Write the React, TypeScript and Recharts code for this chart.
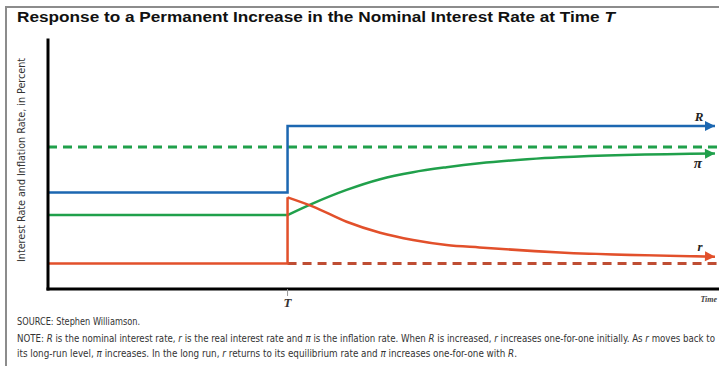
import React from 'react';
import { LineChart, Line, XAxis, YAxis } from 'recharts';

// time at which the nominal rate is raised
const T = 35.7;
const X_END = 99.4;

// nominal interest rate R (step up at T)
const rateNominalX = [0, T, T, X_END];
const rateNominalY = [3.88, 3.88, 6.55, 6.55];

// inflation pi: flat until T, then rises toward new level
const inflationFlatX = [0, T];
const inflationFlatY = [2.97, 2.97];
const inflationCurveX = [T, 39.5, 44.5, 49.5, 54.4, 59.4, 64.3, 71.4, 76.3, X_END];
const inflationCurveY = [2.97, 3.44, 3.98, 4.41, 4.69, 4.89, 5.05, 5.21, 5.29, 5.44];
const inflationLongRunX = [0, 100];
const inflationLongRunY = [5.7, 5.7];

// real rate r: jumps at T then decays back
const rateRealStepX = [0, T, T];
const rateRealStepY = [1.02, 1.02, 3.68];
const rateRealCurveX = [T, 39.5, 44.5, 49.5, 54.4, 59.4, 64.3, 76.3, X_END];
const rateRealCurveY = [3.68, 3.31, 2.7, 2.26, 1.97, 1.77, 1.67, 1.47, 1.3];
const rateRealLongRunX = [T, 100];
const rateRealLongRunY = [1.02, 1.02];

const xTicks = [T];
const xTickLabels = ['T'];

const toRows = (xs: number[], ys: number[]) => xs.map((x, i) => ({ x, y: ys[i] }));

const BLUE = '#1c67b1';
const GREEN = '#20a04b';
const RED = '#e2502b';
const RED_DASH = '#bf4d33';

const SERIF = "'Liberation Serif', 'DejaVu Serif', serif";
const NARROW = "'Liberation Sans Narrow', 'DejaVu Sans Condensed', 'Liberation Sans', sans-serif";

function arrowEnd(color: string, count: number, label: string, dx: number, dy: number, size: number, angle = 0) {
  return (props: any) => {
    const { cx, cy, index } = props;
    if (index !== count - 1 || cx == null) return <g key={`d${index}`} />;
    return (
      <g key={`d${index}`}>
        <polygon
          points={`${cx},${cy} ${cx - 10},${cy - 5} ${cx - 10},${cy + 5}`}
          fill={color}
          transform={`rotate(${angle} ${cx} ${cy})`}
        />
        <text
          x={cx + dx}
          y={cy + dy}
          textAnchor="middle"
          fontFamily={SERIF}
          fontStyle="italic"
          fontWeight="bold"
          fontSize={size}
          fill="#222"
        >
          {label}
        </text>
      </g>
    );
  };
}

const TimeTick = (props: any) => {
  const { x, y, index } = props;
  return (
    <text
      x={x}
      y={y + 9}
      textAnchor="middle"
      fontFamily={SERIF}
      fontStyle="italic"
      fontWeight="bold"
      fontSize={13}
      fill="#333"
    >
      {xTickLabels[index]}
    </text>
  );
};

export default function App() {
  return (
    <div style={{ position: 'absolute', left: 0, top: 0, width: 719, height: 366, background: '#fff' }}>
      <LineChart width={719} height={366} margin={{ top: 40, right: 0, bottom: 47, left: 38 }}>
        <XAxis
          dataKey="x"
          type="number"
          domain={[0, 100]}
          allowDataOverflow
          height={30}
          ticks={xTicks}
          tick={<TimeTick />}
          tickLine={{ stroke: '#999', strokeWidth: 1 }}
          tickSize={7}
          tickMargin={2}
          axisLine={{ stroke: '#000', strokeWidth: 3, strokeLinecap: 'square' }}
        />
        <YAxis
          type="number"
          domain={[0, 10]}
          allowDataOverflow
          width={10}
          tick={false}
          tickLine={false}
          axisLine={{ stroke: '#000', strokeWidth: 3, strokeLinecap: 'square' }}
        />
        <Line
          data={toRows(inflationLongRunX, inflationLongRunY)}
          dataKey="y"
          type="linear"
          stroke={GREEN}
          strokeWidth={3}
          strokeDasharray="9 6"
          dot={false}
          activeDot={false}
          isAnimationActive={false}
        />
        <Line
          data={toRows(rateRealLongRunX, rateRealLongRunY)}
          dataKey="y"
          type="linear"
          stroke={RED_DASH}
          strokeWidth={3}
          strokeDasharray="9 6"
          dot={false}
          activeDot={false}
          isAnimationActive={false}
        />
        <Line
          data={toRows(rateNominalX, rateNominalY)}
          dataKey="y"
          type="linear"
          stroke={BLUE}
          strokeWidth={2.5}
          dot={arrowEnd(BLUE, rateNominalX.length, 'R', -16, -5, 13)}
          activeDot={false}
          isAnimationActive={false}
        />
        <Line
          data={toRows(inflationFlatX, inflationFlatY)}
          dataKey="y"
          type="linear"
          stroke={GREEN}
          strokeWidth={2.5}
          dot={false}
          activeDot={false}
          isAnimationActive={false}
        />
        <Line
          data={toRows(inflationCurveX, inflationCurveY)}
          dataKey="y"
          type="monotone"
          stroke={GREEN}
          strokeWidth={2.5}
          dot={arrowEnd(GREEN, inflationCurveX.length, 'π', -17, 14, 15, -1.5)}
          activeDot={false}
          isAnimationActive={false}
        />
        <Line
          data={toRows(rateRealStepX, rateRealStepY)}
          dataKey="y"
          type="linear"
          stroke={RED}
          strokeWidth={2.5}
          dot={false}
          activeDot={false}
          isAnimationActive={false}
        />
        <Line
          data={toRows(rateRealCurveX, rateRealCurveY)}
          dataKey="y"
          type="monotone"
          stroke={RED}
          strokeWidth={2.5}
          dot={arrowEnd(RED, rateRealCurveX.length, 'r', -15, -6, 13, 1.5)}
          activeDot={false}
          isAnimationActive={false}
        />
      </LineChart>

      <svg
        width={719}
        height={366}
        style={{ position: 'absolute', left: 0, top: 0, pointerEvents: 'none' }}
      >
        <path d="M6 370 L6 7 L725 7" fill="none" stroke="#8c8c8c" strokeWidth={2} />
        <text
          x={17}
          y={22}
          fontFamily="'Liberation Sans', Arial, sans-serif"
          fontWeight="bold"
          fontSize={14}
          fill="#111"
          textLength={598}
          lengthAdjust="spacingAndGlyphs"
        >
          Response to a Permanent Increase in the Nominal Interest Rate at Time <tspan fontStyle="italic">T</tspan>
        </text>
        <text
          transform="translate(25 160) rotate(-90)"
          textAnchor="middle"
          fontFamily={NARROW}
          fontSize={10}
          fill="#333"
          textLength={204}
          lengthAdjust="spacingAndGlyphs"
        >
          Interest Rate and Inflation Rate, in Percent
        </text>
        <text
          x={717}
          y={302}
          textAnchor="end"
          fontFamily={SERIF}
          fontStyle="italic"
          fontWeight="bold"
          fontSize={8}
          fill="#444"
        >
          Time
        </text>
        <text
          x={17}
          y={325}
          fontFamily={NARROW}
          fontSize={10}
          fill="#333"
          textLength={123}
          lengthAdjust="spacingAndGlyphs"
        >
          SOURCE: Stephen Williamson.
        </text>
        <text
          x={17}
          y={342}
          fontFamily={NARROW}
          fontSize={10}
          fill="#333"
          textLength={698}
          lengthAdjust="spacingAndGlyphs"
        >
          NOTE: <tspan fontStyle="italic">R</tspan> is the nominal interest rate, <tspan fontStyle="italic">r</tspan> is the
          real interest rate and <tspan fontStyle="italic">π</tspan> is the inflation rate. When{' '}
          <tspan fontStyle="italic">R</tspan> is increased, <tspan fontStyle="italic">r</tspan> increases one-for-one
          initially. As <tspan fontStyle="italic">r</tspan> moves back to
        </text>
        <text
          x={17}
          y={357}
          fontFamily={NARROW}
          fontSize={10}
          fill="#333"
          textLength={500}
          lengthAdjust="spacingAndGlyphs"
        >
          its long-run level, <tspan fontStyle="italic">π</tspan> increases. In the long run,{' '}
          <tspan fontStyle="italic">r</tspan> returns to its equilibrium rate and <tspan fontStyle="italic">π</tspan>{' '}
          increases one-for-one with <tspan fontStyle="italic">R</tspan>.
        </text>
      </svg>
    </div>
  );
}
